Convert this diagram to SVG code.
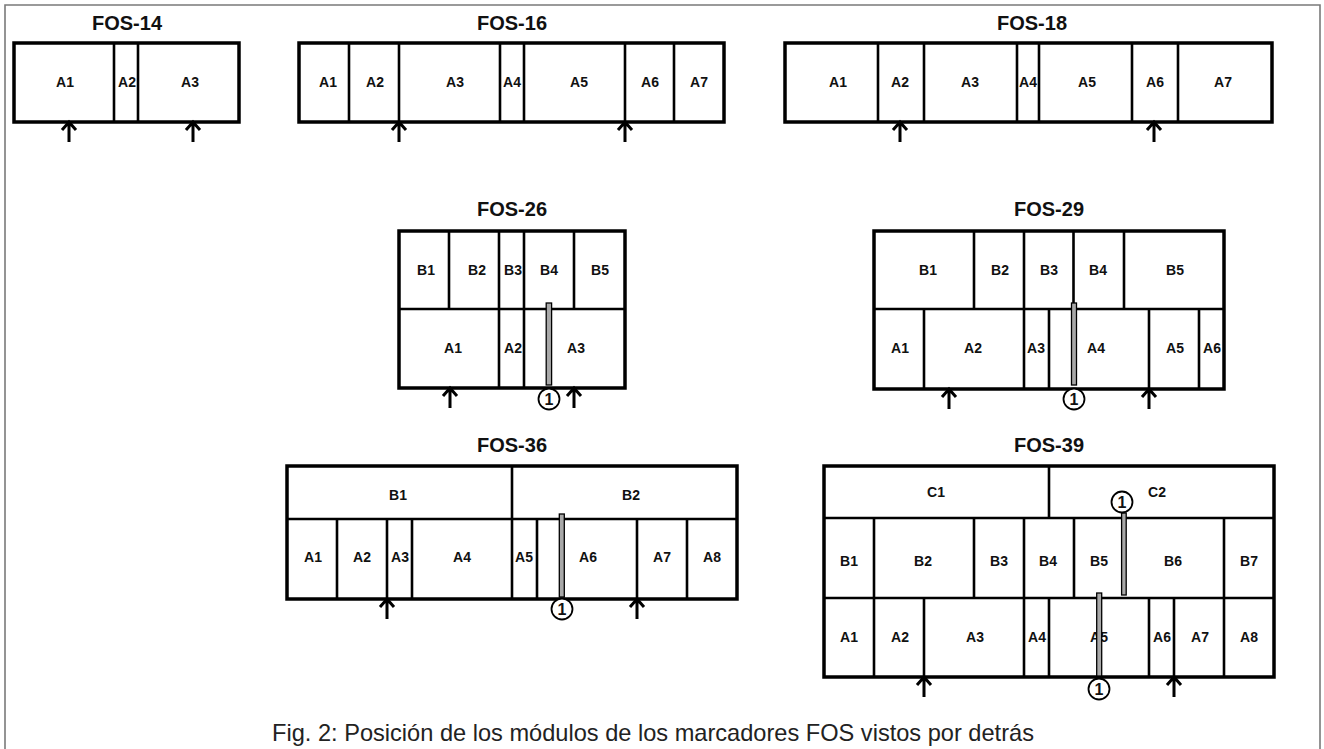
<svg xmlns="http://www.w3.org/2000/svg" xmlns:xlink="http://www.w3.org/1999/xlink" width="1324" height="749" viewBox="0 0 1324 749">
<style>
.box{fill:#fff;stroke:#000;stroke-width:3.5}
.dv{stroke:#000;stroke-width:2.6;fill:none}
.ttl{font-family:"Liberation Sans",Arial,sans-serif;font-weight:bold;font-size:20px;text-anchor:middle;fill:#111}
.lbl{font-family:"Liberation Sans",Arial,sans-serif;font-weight:bold;font-size:14px;text-anchor:middle;fill:#111}
.arr{stroke:#000;stroke-width:3;fill:none}
.bar{fill:#a8a8a8;stroke:#000;stroke-width:1.3}
.cap{font-family:"Liberation Sans",Arial,sans-serif;font-size:23.6px;text-anchor:middle;fill:#222}
</style>
<defs>
<path id="arw" class="arr" d="M0,0 V20 M-7,8 L0,0 L7,8"/>
<g id="one"><circle r="10.5" fill="#fff" stroke="#000" stroke-width="1.8"/><text class="lbl" y="5.5" style="font-size:16px">1</text></g>
</defs>
<rect width="1324" height="749" fill="#fff"/>
<path d="M5,749 V5 H1320 V749" fill="none" stroke="#7a7a7a" stroke-width="1.6"/>

<g id="fos14">
<text class="ttl" x="127" y="30">FOS-14</text>
<rect class="box" x="14" y="43" width="225" height="79"/>
<path class="dv" d="M114,43V122M138,43V122"/>
<text class="lbl" x="65" y="87">A1</text><text class="lbl" x="127" y="87">A2</text><text class="lbl" x="190" y="87">A3</text>
</g>

<g id="fos16">
<text class="ttl" x="512" y="30">FOS-16</text>
<rect class="box" x="299" y="43" width="425" height="79"/>
<path class="dv" d="M349,43V122M399,43V122M500,43V122M524,43V122M625,43V122M674,43V122"/>
<text class="lbl" x="328" y="87">A1</text><text class="lbl" x="375" y="87">A2</text><text class="lbl" x="455" y="87">A3</text><text class="lbl" x="512" y="87">A4</text><text class="lbl" x="579" y="87">A5</text><text class="lbl" x="650" y="87">A6</text><text class="lbl" x="699" y="87">A7</text>
</g>

<g id="fos18">
<text class="ttl" x="1032" y="30">FOS-18</text>
<rect class="box" x="785" y="43" width="487" height="79"/>
<path class="dv" d="M878,43V122M924,43V122M1017,43V122M1039,43V122M1132,43V122M1178,43V122"/>
<text class="lbl" x="838" y="87">A1</text><text class="lbl" x="900" y="87">A2</text><text class="lbl" x="970" y="87">A3</text><text class="lbl" x="1028" y="87">A4</text><text class="lbl" x="1087" y="87">A5</text><text class="lbl" x="1155" y="87">A6</text><text class="lbl" x="1223" y="87">A7</text>
</g>

<g id="fos26">
<text class="ttl" x="512" y="216">FOS-26</text>
<rect class="box" x="399" y="231" width="226" height="157"/>
<path class="dv" d="M399,309H625M449,231V309M499,231V388M524,231V388M574,231V309"/>
<text class="lbl" x="426" y="275">B1</text><text class="lbl" x="477" y="275">B2</text><text class="lbl" x="513" y="275">B3</text><text class="lbl" x="549" y="275">B4</text><text class="lbl" x="600" y="275">B5</text>
<text class="lbl" x="453" y="353">A1</text><text class="lbl" x="513" y="353">A2</text><text class="lbl" x="576" y="353">A3</text>
<rect class="bar" x="546.2" y="303" width="5.4" height="82"/>
<use xlink:href="#one" x="549" y="399"/>
</g>

<g id="fos29">
<text class="ttl" x="1049" y="216">FOS-29</text>
<rect class="box" x="874" y="231" width="350" height="158"/>
<path class="dv" d="M874,309H1224M974,231V309M1024,231V389M1073.5,231V309M1124,231V309M924,309V389M1049,309V389M1149,309V389M1199,309V389"/>
<text class="lbl" x="928" y="275">B1</text><text class="lbl" x="1000" y="275">B2</text><text class="lbl" x="1049" y="275">B3</text><text class="lbl" x="1098" y="275">B4</text><text class="lbl" x="1175" y="275">B5</text>
<text class="lbl" x="900" y="353">A1</text><text class="lbl" x="973" y="353">A2</text><text class="lbl" x="1036" y="353">A3</text><text class="lbl" x="1096" y="353">A4</text><text class="lbl" x="1175" y="353">A5</text><text class="lbl" x="1212" y="353">A6</text>
<rect class="bar" x="1071.5" y="303" width="5" height="82"/>
<use xlink:href="#one" x="1074" y="399"/>
</g>

<g id="fos36">
<text class="ttl" x="512" y="452">FOS-36</text>
<rect class="box" x="287" y="466" width="450" height="133"/>
<path class="dv" d="M287,519H737M512,466V599M337,519V599M387,519V599M412,519V599M537,519V599M637,519V599M687,519V599"/>
<text class="lbl" x="398" y="500">B1</text><text class="lbl" x="631" y="500">B2</text>
<text class="lbl" x="313" y="562">A1</text><text class="lbl" x="362" y="562">A2</text><text class="lbl" x="400" y="562">A3</text><text class="lbl" x="462" y="562">A4</text><text class="lbl" x="524" y="562">A5</text><text class="lbl" x="588" y="562">A6</text><text class="lbl" x="662" y="562">A7</text><text class="lbl" x="712" y="562">A8</text>
<rect class="bar" x="559.3" y="514" width="5" height="83"/>
<use xlink:href="#one" x="562" y="609"/>
</g>

<g id="fos39">
<text class="ttl" x="1049" y="452">FOS-39</text>
<rect class="box" x="824" y="466" width="450" height="211"/>
<path class="dv" d="M824,518H1274M824,598H1274M1049,466V518M874,518V677M974,518V598M1024,518V677M1074,518V598M1224,518V677M924,598V677M1049,598V677M1149,598V677M1174,598V677"/>
<text class="lbl" x="936" y="497">C1</text><text class="lbl" x="1157" y="497">C2</text>
<text class="lbl" x="849" y="566">B1</text><text class="lbl" x="923" y="566">B2</text><text class="lbl" x="999" y="566">B3</text><text class="lbl" x="1048" y="566">B4</text><text class="lbl" x="1099" y="566">B5</text><text class="lbl" x="1173" y="566">B6</text><text class="lbl" x="1249" y="566">B7</text>
<text class="lbl" x="849" y="642">A1</text><text class="lbl" x="900" y="642">A2</text><text class="lbl" x="975" y="642">A3</text><text class="lbl" x="1037" y="642">A4</text><text class="lbl" x="1099" y="642">A5</text><text class="lbl" x="1162" y="642">A6</text><text class="lbl" x="1200" y="642">A7</text><text class="lbl" x="1249" y="642">A8</text>
<rect class="bar" x="1121.6" y="513" width="4.6" height="82"/>
<rect class="bar" x="1096.7" y="593" width="5" height="83"/>
<use xlink:href="#one" x="1122" y="502"/>
<use xlink:href="#one" x="1099" y="689"/>
</g>

<g id="connectors">
<use xlink:href="#arw" x="69" y="122"/><use xlink:href="#arw" x="193" y="122"/>
<use xlink:href="#arw" x="399" y="122"/><use xlink:href="#arw" x="625" y="122"/>
<use xlink:href="#arw" x="900" y="122"/><use xlink:href="#arw" x="1154" y="122"/>
<use xlink:href="#arw" x="450" y="388"/><use xlink:href="#arw" x="574" y="388"/>
<use xlink:href="#arw" x="949" y="389"/><use xlink:href="#arw" x="1149" y="389"/>
<use xlink:href="#arw" x="387" y="599"/><use xlink:href="#arw" x="637" y="599"/>
<use xlink:href="#arw" x="924" y="677"/><use xlink:href="#arw" x="1174" y="677"/>
</g>

<text id="caption" class="cap" x="653" y="741">Fig. 2: Posición de los módulos de los marcadores FOS vistos por detrás</text>
</svg>
